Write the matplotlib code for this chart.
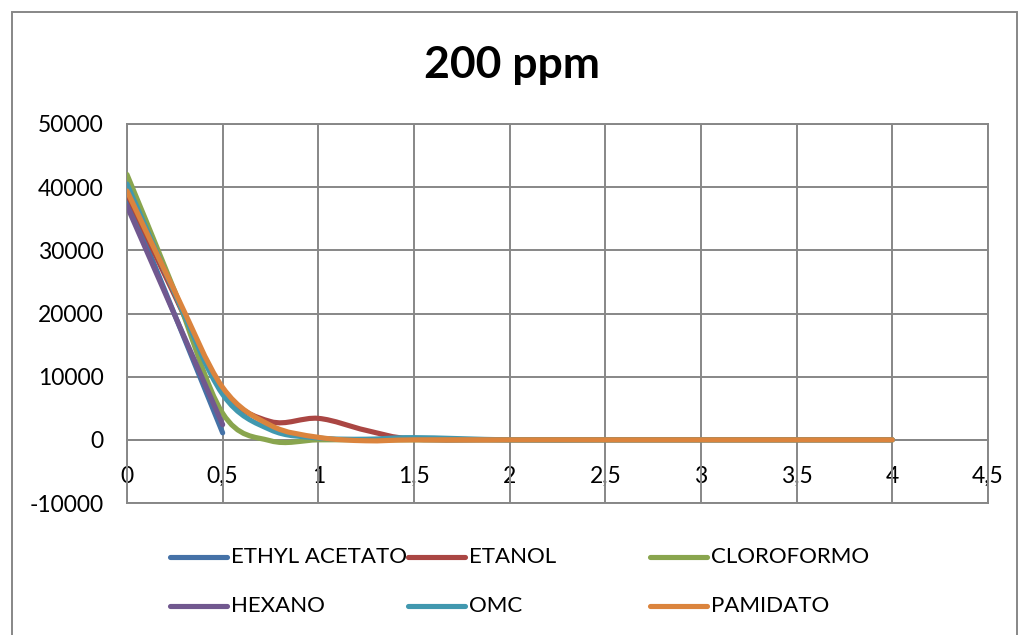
import numpy as np
import matplotlib
matplotlib.use("Agg")
import matplotlib.pyplot as plt
from matplotlib.path import Path
from matplotlib.patches import PathPatch, Rectangle
from matplotlib.lines import Line2D

plt.rcParams['font.family'] = ['Lato', 'DejaVu Sans']

# values
names = ['ETHYL ACETATO', 'ETANOL', 'CLOROFORMO', 'HEXANO', 'OMC', 'PAMIDATO']
colors = ['#4572A7', '#AA4643', '#89A54E', '#71588F', '#4198AF', '#DB843D']

x_short = [0, 0.5]
x_long = [0, 0.25, 0.5, 0.75, 1, 1.25, 1.5, 2, 2.5, 3, 3.5, 4]

ethyl = [38400, 1100]
etanol = [39000, 22800, 7800, 2900, 3400, 1500, 100, 0, 0, 0, 0, 0]
cloroformo = [42000, 23500, 4200, -150, 0, 0, 0, 0, 0, 0, 0, 0]
hexano = [37000, 2400]
omc = [40500, 23200, 7200, 1600, 300, 100, 350, 0, 0, 0, 0, 0]
pamidato = [39400, 23500, 8300, 2300, 400, -150, 0, 0, 0, 0, 0, 0]

series = [(x_short, ethyl), (x_long, etanol), (x_long, cloroformo),
          (x_short, hexano), (x_long, omc), (x_long, pamidato)]

x_ticks = [0, 0.5, 1, 1.5, 2, 2.5, 3, 3.5, 4, 4.5]
x_labels = ['0', '0,5', '1', '1,5', '2', '2,5', '3', '3,5', '4', '4,5']
y_ticks = [-10000, 0, 10000, 20000, 30000, 40000, 50000]


def smooth_path(xs, ys):
    # Excel-style smoothed line: cubic bezier through the points
    p = np.column_stack([xs, ys]).astype(float)
    n = len(p)
    verts = [p[0]]
    codes = [Path.MOVETO]
    for i in range(n - 1):
        prev = p[i - 1] if i > 0 else p[i]
        nxt = p[i + 2] if i + 2 < n else p[i + 1]
        c1 = p[i] + (p[i + 1] - prev) / 6
        c2 = p[i + 1] - (nxt - p[i]) / 6
        verts += [c1, c2, p[i + 1]]
        codes += [Path.CURVE4] * 3
    return Path(verts, codes)


fig = plt.figure(figsize=(10.2, 6.35), dpi=100)
ax = fig.add_axes([127 / 1020, 1 - 503 / 635, (988 - 127) / 1020, (503 - 124) / 635])

grid_c = '#878787'
for (xs, ys), c in zip(series, colors):
    ax.add_patch(PathPatch(smooth_path(xs, ys), facecolor='none', edgecolor=c,
                           lw=3.7, capstyle='round', joinstyle='round', zorder=3))

ax.set_xlim(0, 4.5)
ax.set_ylim(-10000, 50000)
ax.set_xticks(x_ticks)
ax.set_yticks(y_ticks)
ax.set_yticklabels([str(v) for v in y_ticks])
ax.tick_params(axis='y', length=0, pad=17, labelsize=16.5)
ax.tick_params(axis='x', length=0, labelbottom=False)
ax.grid(True, color=grid_c, lw=1.4)
for s in ax.spines.values():
    s.set_color(grid_c)
    s.set_linewidth(1.4)

# horizontal axis crosses at y = 0
sec = ax.secondary_xaxis(10000 / 60000)
sec.set_xticks(x_ticks, labels=x_labels)
sec.tick_params(length=0, pad=19, labelsize=16.5)
sec.spines['bottom'].set_color(grid_c)
sec.spines['bottom'].set_linewidth(1.4)

fig.text(512 / 1020, 1 - 65 / 635, '200 ppm', ha='center', va='center',
         fontsize=32, fontweight='bold')

# legend, 3 columns x 2 rows
col_x = [170, 408, 650]
row_y = [557, 606]
for i, (name, c) in enumerate(zip(names, colors)):
    lx = col_x[i % 3]
    ly = 1 - row_y[i // 3] / 635
    fig.add_artist(Line2D([lx / 1020, (lx + 57) / 1020], [ly, ly], color=c,
                          lw=3.7, solid_capstyle='round'))
    fig.text((lx + 61) / 1020, ly, name, ha='left', va='center', fontsize=16)

fig.add_artist(Rectangle((12 / 1020, -0.01), (1017 - 12) / 1020, 1 - 12 / 635 + 0.01,
                         transform=fig.transFigure, fill=False,
                         edgecolor=grid_c, lw=1.4))

fig.savefig('out.png', dpi=100)
